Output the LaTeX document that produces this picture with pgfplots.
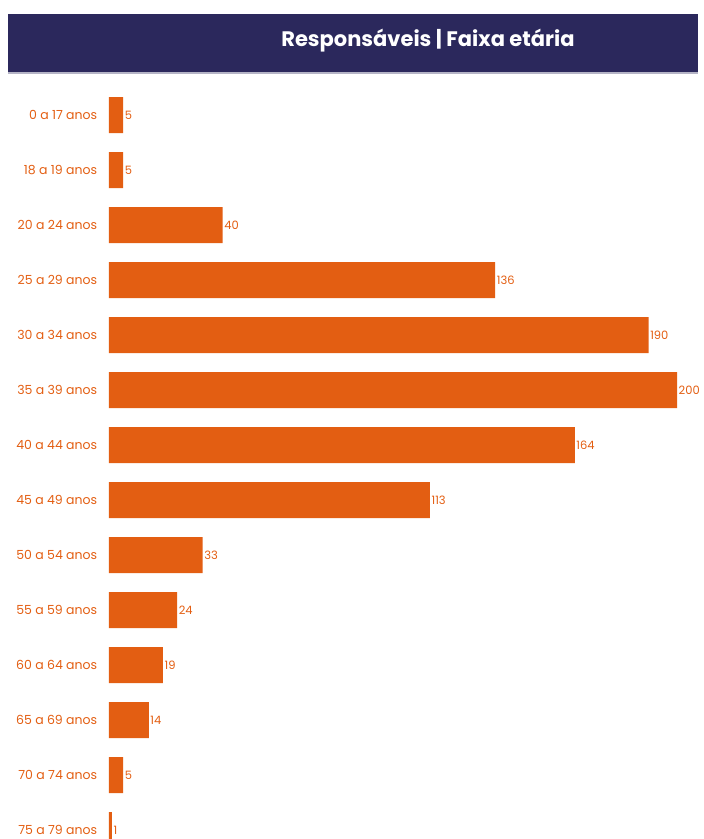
\documentclass[border=0pt]{standalone}
\usepackage{pgfplots}
\pgfplotsset{compat=1.18}
\usepackage{fontspec}
\setmainfont{Poppins}
\definecolor{navy}{HTML}{2B285C}
\definecolor{barorange}{HTML}{E35E12}
\begin{document}
\begin{tikzpicture}
\useasboundingbox (0,0) rectangle (704pt,-839pt);
\fill[navy] (8pt,-14pt) rectangle (698pt,-72pt);
\fill[navy!35] (8pt,-72pt) rectangle (698pt,-74pt);
\node[text=white, font=\bfseries\fontsize{21}{24}\selectfont] at (428pt,-41pt) {Responsáveis | Faixa etária};
\begin{axis}[
  at={(109pt,-87.5pt)}, anchor=north west,
  scale only axis, width=568pt, height=770pt,
  xbar, bar width=36pt,
  xmin=0, xmax=200,
  ymin=-0.5, ymax=13.5, y dir=reverse,
  axis line style={draw=none}, tick style={draw=none},
  xtick=\empty,
  ytick={0,...,13},
  yticklabels={0 a 17 anos,18 a 19 anos,20 a 24 anos,25 a 29 anos,30 a 34 anos,35 a 39 anos,40 a 44 anos,45 a 49 anos,50 a 54 anos,55 a 59 anos,60 a 64 anos,65 a 69 anos,70 a 74 anos,75 a 79 anos},
  yticklabel style={font=\fontsize{12.5}{13}\selectfont, text=barorange, xshift=-4pt},
  /pgf/number format/assume math mode=true,
  nodes near coords,
  nodes near coords style={font=\fontsize{11.5}{12}\selectfont, text=barorange, anchor=west, inner sep=1.5pt},
  clip=false,
]
\addplot[fill=barorange, draw=none] coordinates {
(5,0) (5,1) (40,2) (136,3) (190,4) (200,5) (164,6) (113,7) (33,8) (24,9) (19,10) (14,11) (5,12) (1,13)
};
\end{axis}
\end{tikzpicture}
\end{document}
